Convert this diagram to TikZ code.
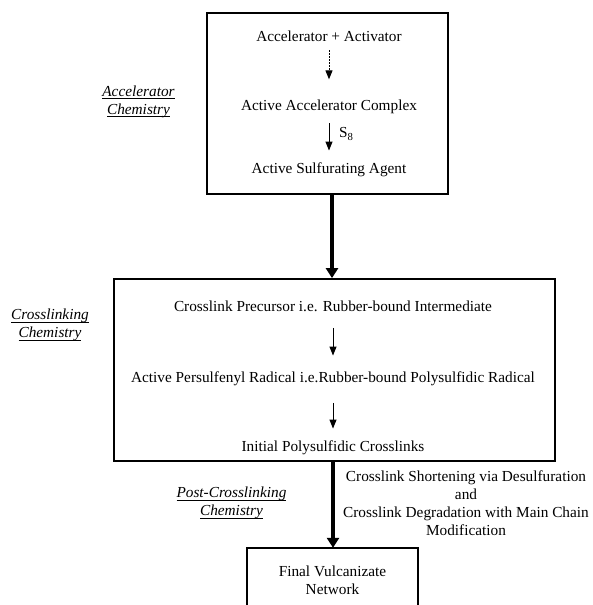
\documentclass[tikz,border=0pt]{standalone}
\usepackage{fontspec}
\setmainfont{Liberation Serif}
\usetikzlibrary{arrows.meta}
\newcommand{\myul}[1]{\setbox0\hbox{#1}\rlap{\rule[-2.6pt]{\wd0}{0.7pt}}\box0}
\begin{document}
\begin{tikzpicture}[x=1pt,y=-1pt,
  every node/.style={font=\fontsize{15.3}{18}\selectfont},
  txt/.style={inner sep=0pt, text height=11pt, text depth=3.5pt},
  lbl/.style={inner sep=0pt, align=center, font=\fontsize{15.3}{18}\selectfont\itshape},
  bigbox/.style={draw, line width=1.8pt, rectangle, inner sep=0pt},
  thinarrow/.style={line width=1pt, -{Triangle[width=7pt,length=9pt]}},
  dasharrow/.style={thinarrow, dash pattern=on 1.6pt off 1.4pt},
  thickarrow/.style={line width=3.6pt, -{Triangle[width=12pt,length=10pt]}}
]
\useasboundingbox (0,0) rectangle (593,605);

% top box
\node[bigbox, minimum width=241pt, minimum height=181pt] (accbox) at (327.5,103.5) {};
\node[txt] (a1) at (329,37.3) {Accelerator + Activator};
\node[txt] (a2) at (329,106.3) {Active Accelerator Complex};
\node[txt] (a3) at (329,169.5) {Active Sulfurating Agent};
\draw[dasharrow, shorten <=5.5pt, shorten >=19.5pt] (a1) -- (a2);
\draw[thinarrow, shorten <=9.5pt, shorten >=11.5pt] (a2) -- (a3);
\node[anchor=west, inner sep=0pt] (s8) at (339,134) {S\textsubscript{8}};

% middle box
\node[bigbox, minimum width=441pt, minimum height=182pt] (xbox) at (334.5,370) {};
\node[txt] (c1) at (333,308) {Crosslink Precursor i.e. Rubber-bound Intermediate};
\node[txt] (c2) at (333,379) {Active Persulfenyl Radical i.e.Rubber-bound Polysulfidic Radical};
\node[txt] (c3) at (333,448) {Initial Polysulfidic Crosslinks};
\draw[thinarrow, shorten <=12.5pt, shorten >=16pt] (c1) -- (c2);
\draw[thinarrow, shorten <=16.5pt, shorten >=12pt] (c2) -- (c3);

% bottom box (cut off at the bottom)
\node[rectangle, inner sep=0pt, align=center, minimum width=171pt, minimum height=64pt] (fbox) at (332.5,580) {Final Vulcanizate\\Network};
\draw[line width=1.8pt] (fbox.south west) |- (fbox.north) -| (fbox.south east);

% thick arrows
\coordinate (axis) at (332,0);
\coordinate (axisb) at (333,0);
\draw[thickarrow] (accbox.south -| axis) -- (xbox.north -| axis);
\draw[thickarrow] (xbox.south -| axisb) -- (fbox.north -| axisb);

% right text
\node[inner sep=0pt, align=center] (post) at (466,503.5) {Crosslink Shortening via Desulfuration\\and\\Crosslink Degradation with Main Chain\\Modification};

% left labels
\node[lbl] (l1) at (138.5,101.5) {\myul{Accelerator}\\\myul{Chemistry}};
\node[lbl] (l2) at (50,325) {\myul{Crosslinking}\\\myul{Chemistry}};
\node[lbl] (l3) at (231.5,503) {\myul{Post-Crosslinking}\\\myul{Chemistry}};
\end{tikzpicture}
\end{document}
